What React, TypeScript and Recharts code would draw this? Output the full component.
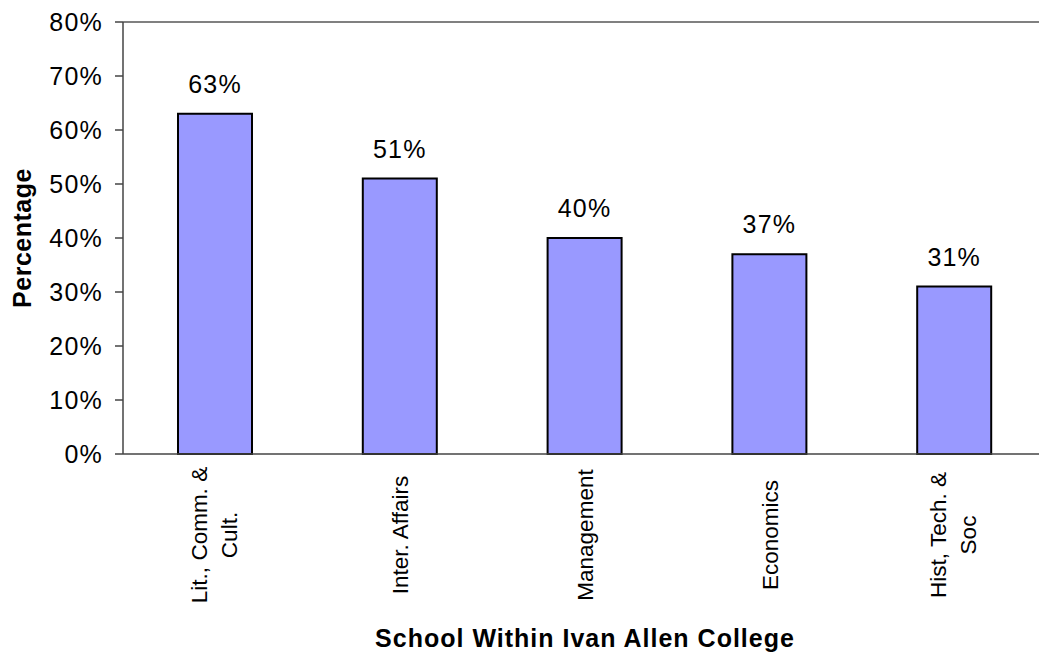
import React from "react";
import { BarChart, Bar, XAxis, YAxis, LabelList, ReferenceLine } from "recharts";

const schools = [
  ["Lit., Comm. &", "Cult."],
  ["Inter. Affairs"],
  ["Management"],
  ["Economics"],
  ["Hist, Tech. &", "Soc"],
];
const shares = [63, 51, 40, 37, 31];
const yTicks = [0, 10, 20, 30, 40, 50, 60, 70, 80];
const edgeTicks = [0, 1, 2, 3, 4, 5];

const data = schools.map((lines, i) => ({ name: lines.join(" "), value: shares[i] }));

const FONT = "'Liberation Sans', Arial, sans-serif";
const AXIS = "#444444";

// rotated, possibly two-line category label centred under its bar
const SchoolTick = (props: any) => {
  const { x, y, index } = props;
  const lines = schools[index] || [];
  const cy = y + 73;
  const offsets = lines.length === 2 ? [-16, 14] : [0];
  return (
    <g>
      {lines.map((line, i) => (
        <text
          key={i}
          x={0}
          y={0}
          dy="0.35em"
          textAnchor="middle"
          fontSize={22.5}
          fontFamily={FONT}
          fill="#000"
          transform={`translate(${x + offsets[i]}, ${cy}) rotate(-90)`}
        >
          {line}
        </text>
      ))}
    </g>
  );
};

const App: React.FC = () => {
  return (
    <div style={{ position: "absolute", left: 0, top: 0, width: 1039, height: 656, overflow: "hidden", background: "#fff" }}>
      <BarChart
        width={1060}
        height={656}
        data={data}
        margin={{ top: 22, right: 13, left: 0, bottom: 0 }}
        style={{ fontFamily: FONT }}
      >
        {/* boundary tick marks between categories */}
        <XAxis
          xAxisId="edges"
          type="number"
          domain={[0, 5]}
          ticks={edgeTicks}
          allowDataOverflow
          height={0}
          axisLine={false}
          tick={false}
          tickLine={{ stroke: AXIS, strokeWidth: 1.5 }}
          tickSize={7}
        />
        <XAxis
          dataKey="name"
          height={202}
          interval={0}
          axisLine={{ stroke: AXIS, strokeWidth: 1.5 }}
          tickLine={false}
          tick={<SchoolTick />}
          label={{
            value: "School Within Ivan Allen College",
            position: "insideBottom",
            offset: 9,
            style: { fontSize: 25, fontWeight: "bold", fill: "#000", fontFamily: FONT, letterSpacing: 1 },
          }}
        />
        <YAxis
          width={123}
          domain={[0, 80]}
          ticks={yTicks}
          tickFormatter={(v: number) => `${v}%`}
          axisLine={{ stroke: AXIS, strokeWidth: 1.5 }}
          tickLine={{ stroke: AXIS, strokeWidth: 1.5 }}
          tickSize={8}
          tickMargin={12}
          tick={{ fontSize: 25, fill: "#000", fontFamily: FONT, letterSpacing: 1.2 }}
          label={{
            value: "Percentage",
            angle: -90,
            position: "insideLeft",
            offset: 22,
            style: { fontSize: 25, fontWeight: "bold", fill: "#000", fontFamily: FONT, textAnchor: "middle", letterSpacing: 0.5 },
          }}
        />
        <ReferenceLine y={80} stroke="#808080" strokeWidth={2} />
        <Bar dataKey="value" fill="#9999FF" stroke="#000" strokeWidth={2} barSize={74} isAnimationActive={false}>
          <LabelList
            dataKey="value"
            position="top"
            offset={21}
            formatter={(v: any) => `${v}%`}
            style={{ fontSize: 25, fill: "#000", fontFamily: FONT, letterSpacing: 1.2 }}
          />
        </Bar>
      </BarChart>
    </div>
  );
};

export default App;
